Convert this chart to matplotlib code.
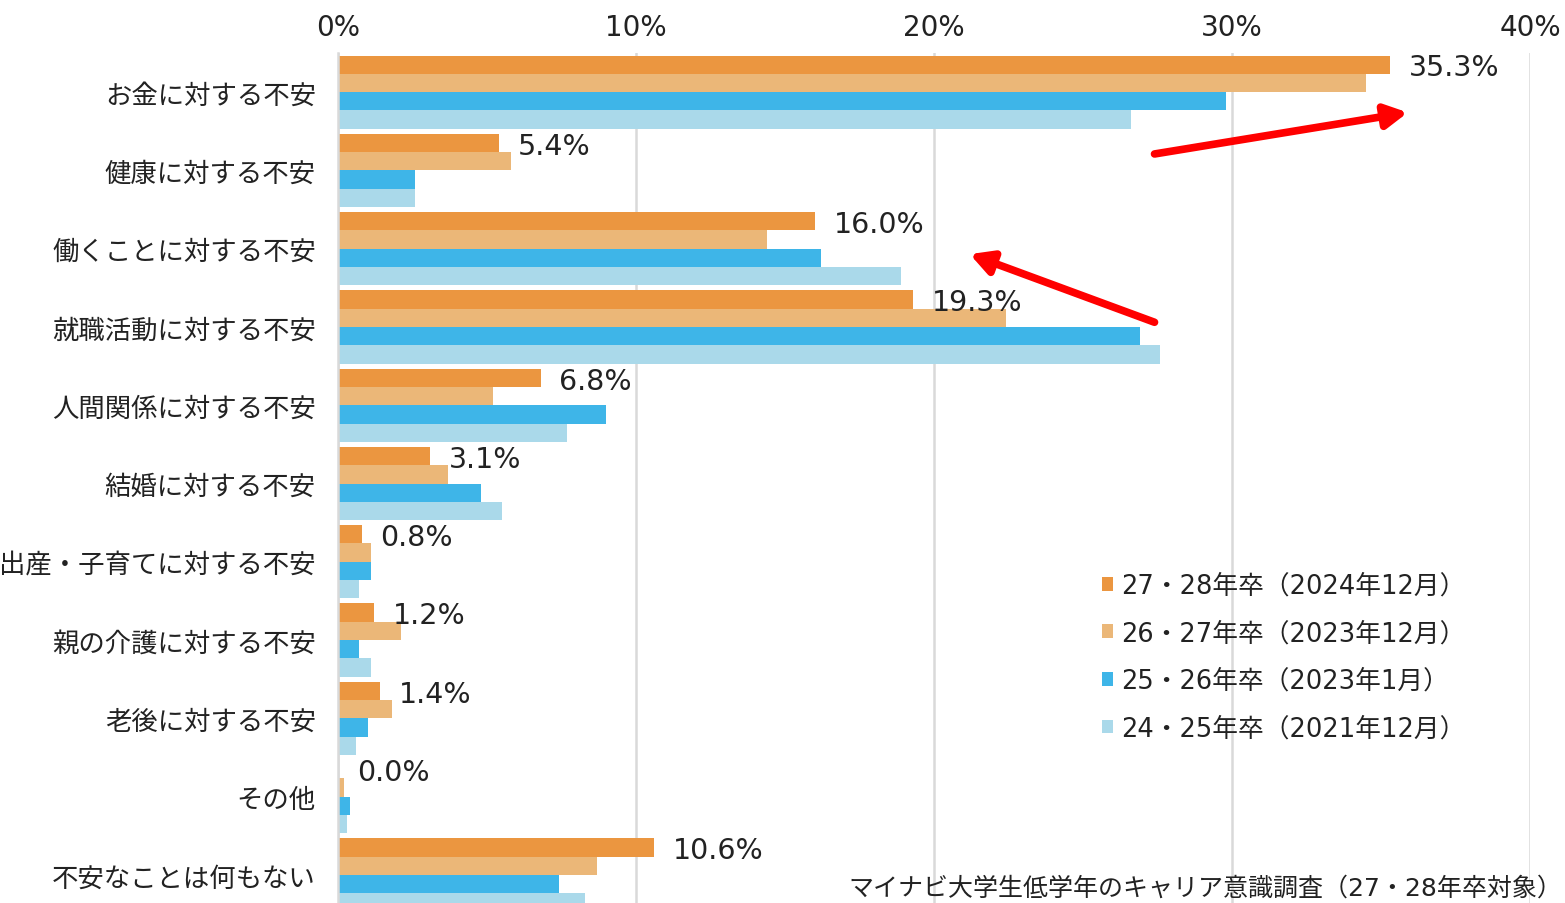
import matplotlib
matplotlib.use("Agg")

import matplotlib.pyplot as plt
import matplotlib.patches as mpatches
import numpy as np

plt.rcParams["font.family"] = ["Noto Sans CJK JP", "DejaVu Sans"]

# カテゴリ（上から順）
categories = [
    "お金に対する不安",
    "健康に対する不安",
    "働くことに対する不安",
    "就職活動に対する不安",
    "人間関係に対する不安",
    "結婚に対する不安",
    "出産・子育てに対する不安",
    "親の介護に対する不安",
    "老後に対する不安",
    "その他",
    "不安なことは何もない",
]

series_labels = [
    "27・28年卒（2024年12月）",
    "26・27年卒（2023年12月）",
    "25・26年卒（2023年1月）",
    "24・25年卒（2021年12月）",
]

# values in %
vals_2728 = [35.3, 5.4, 16.0, 19.3, 6.8, 3.1, 0.8, 1.2, 1.4, 0.0, 10.6]
vals_2627 = [34.5, 5.8, 14.4, 22.4, 5.2, 3.7, 1.1, 2.1, 1.8, 0.2, 8.7]
vals_2526 = [29.8, 2.6, 16.2, 26.9, 9.0, 4.8, 1.1, 0.7, 1.0, 0.4, 7.4]
vals_2425 = [26.6, 2.6, 18.9, 27.6, 7.7, 5.5, 0.7, 1.1, 0.6, 0.3, 8.3]

colors = ["#EB9640", "#EBB778", "#3EB5E8", "#AAD9EA"]
# wide latin digits first, CJK glyphs fall back to Noto
latin = ["DejaVu Sans", "Noto Sans CJK JP"]

W, H = 1565, 904
fig = plt.figure(figsize=(W / 100, H / 100), dpi=100)

# axes placed in pixels: left 338, right 1530, top 54, bottom 915 (slightly cut off)
ax = fig.add_axes([338 / W, 1 - 915 / H, (1530 - 338) / W, (915 - 54) / H])

y = np.arange(len(categories))
bar_h = 0.234
all_series = [vals_2728, vals_2627, vals_2526, vals_2425]

for j, (vals, col) in enumerate(zip(all_series, colors)):
    ax.barh(y + (j - 1.5) * bar_h, vals, height=bar_h, color=col,
            label=series_labels[j], zorder=2)

# value labels for the latest survey only
for i, v in enumerate(vals_2728):
    ax.annotate(f"{v:.1f}%", xy=(v, y[i] - 1.5 * bar_h), xytext=(13.5, -2),
                textcoords="offset points", va="center", ha="left",
                fontsize=20.5, family=latin, color="#222222", zorder=4)

ax.set_xlim(0, 40)
ax.set_ylim(len(categories) - 0.5, -0.5)
ax.set_xticks([0, 10, 20, 30, 40])
ax.set_xticklabels([f"{t}%" for t in [0, 10, 20, 30, 40]], family=latin)
ax.xaxis.tick_top()
ax.tick_params(axis="x", length=0, pad=9, labelsize=20, colors="#222222")
ax.set_yticks(y)
ax.set_yticklabels(categories)
ax.tick_params(axis="y", length=0, pad=16, labelsize=19, colors="#222222")

ax.grid(axis="x", color="#D9D9D9", linewidth=1.8, zorder=0)
for s in ["top", "right", "bottom"]:
    ax.spines[s].set_visible(False)
ax.spines["left"].set_color("#D9D9D9")
ax.spines["left"].set_linewidth(1.8)

# red arrows (annotation, data coords)
arrow_kw = dict(arrowstyle="-|>,head_length=1.3,head_width=0.7",
                color="#FF0000", lw=5.5, shrinkA=0, shrinkB=0)
ax.annotate("", xy=(35.9, 0.26), xytext=(27.4, 0.79), arrowprops=arrow_kw, zorder=5)
ax.annotate("", xy=(21.2, 2.07), xytext=(27.4, 2.94), arrowprops=arrow_kw, zorder=5)

handles = [mpatches.Patch(facecolor=c, label=l) for c, l in zip(colors, series_labels)]
leg = fig.legend(handles=handles, loc="upper left",
                 bbox_to_anchor=(1089 / W, 1 - 561 / H),
                 frameon=False, handlelength=0.45, handleheight=0.45,
                 handletextpad=0.3, labelspacing=0.84, borderpad=0,
                 labelcolor="#222222", prop={"family": latin, "size": 18.5})

fig.text(1562 / W, 1 - 889 / H,
         "マイナビ大学生低学年のキャリア意識調査（27・28年卒対象）",
         ha="right", va="center", fontsize=18, family=latin, color="#222222")

fig.savefig("out.png", dpi=100)
